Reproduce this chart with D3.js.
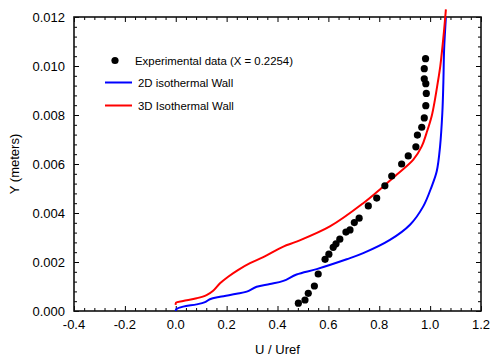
<!DOCTYPE html>
<html>
<head>
<meta charset="utf-8">
<script src="https://cdn.jsdelivr.net/npm/d3@7"></script>
<style>
  body { margin: 0; background: #fff; }
  svg text { font-family: "Liberation Sans", Arial, sans-serif; fill: #000; }
</style>
</head>
<body>
<div id="chart"></div>
<script>
// Experimental data (X = 0.2254)
const expU = [0.482, 0.508, 0.521, 0.545, 0.560, 0.587, 0.602, 0.619, 0.630, 0.645,
    0.669, 0.685, 0.702, 0.721, 0.757, 0.790, 0.822, 0.849, 0.888, 0.914,
    0.944, 0.950, 0.967, 0.977, 0.983, 0.985, 0.983, 0.977, 0.977, 0.982];
const expY = [0.00032, 0.00045, 0.00072, 0.00102, 0.00151, 0.00211, 0.00232, 0.00260, 0.00274, 0.00293,
    0.00322, 0.00331, 0.00361, 0.00379, 0.00429, 0.00461, 0.00511, 0.00551, 0.00600, 0.00633,
    0.00670, 0.00718, 0.00750, 0.00788, 0.00838, 0.00888, 0.00928, 0.00948, 0.00989, 0.01030];

// 2D isothermal Wall
const blueU = [0.000, 0.002, 0.029, 0.082, 0.115, 0.134, 0.174, 0.239, 0.279, 0.318,
    0.370, 0.423, 0.475, 0.554, 0.672, 0.737, 0.842, 0.921, 0.973, 1.006,
    1.026, 1.039, 1.048, 1.052, 1.055, 1.062];
const blueY = [0.00000, 0.00007, 0.00018, 0.00027, 0.00036, 0.00048, 0.00058, 0.00070, 0.00079, 0.00099,
    0.00110, 0.00123, 0.00149, 0.00171, 0.00211, 0.00236, 0.00290, 0.00352, 0.00427, 0.00508,
    0.00570, 0.00671, 0.00809, 0.00931, 0.01067, 0.01198];

// 3D Isothermal Wall
const redU = [0.000, 0.001, 0.029, 0.082, 0.121, 0.147, 0.174, 0.206, 0.246, 0.292,
    0.344, 0.423, 0.475, 0.606, 0.737, 0.809, 0.868, 0.934, 0.967, 0.986,
    1.006, 1.019, 1.032, 1.040, 1.054, 1.062];
const redY = [0.00025, 0.00034, 0.00041, 0.00052, 0.00065, 0.00083, 0.00113, 0.00140, 0.00168, 0.00195,
    0.00220, 0.00263, 0.00283, 0.00345, 0.00440, 0.00502, 0.00556, 0.00618, 0.00672, 0.00727,
    0.00795, 0.00863, 0.00945, 0.00999, 0.01136, 0.01231];

const xTicks = [-0.4, -0.2, 0.0, 0.2, 0.4, 0.6, 0.8, 1.0, 1.2];
const xTickLabels = ['-0.4', '-0.2', '0.0', '0.2', '0.4', '0.6', '0.8', '1.0', '1.2'];
const yTicks = [0, 0.002, 0.004, 0.006, 0.008, 0.010, 0.012];
const yTickLabels = ['0.000', '0.002', '0.004', '0.006', '0.008', '0.010', '0.012'];

const width = 493, height = 358;
const plotLeft = 74, plotRight = 481, plotTop = 17, plotBottom = 311;

const svg = d3.select('#chart')
    .append('svg')
    .attr('width', width)
    .attr('height', height);

const x = d3.scaleLinear().domain([-0.4, 1.2]).range([plotLeft, plotRight]);
const y = d3.scaleLinear().domain([0, 0.012]).range([plotBottom, plotTop]);

// minor ticks: 5 subdivisions between major ticks
function minors(ticks) {
    const out = [];
    for (let i = 0; i < ticks.length - 1; i++) {
        const step = (ticks[i + 1] - ticks[i]) / 5;
        for (let k = 1; k < 5; k++) out.push(ticks[i] + k * step);
    }
    return out;
}
const xMinor = minors(xTicks);
const yMinor = minors(yTicks);

// Axes (ticks inward on all sides)
function addAxis(axisFn, scale, translate, vals, size) {
    const ax = axisFn(scale).tickValues(vals).tickSizeInner(-size).tickSizeOuter(0).tickFormat('');
    const g = svg.append('g').attr('transform', translate).call(ax);
    g.select('.domain').remove();
    g.selectAll('line').attr('stroke', '#000').attr('stroke-width', 1);
    g.selectAll('text').remove();
    return g;
}
addAxis(d3.axisBottom, x, `translate(0,${plotBottom})`, xTicks, 5);
addAxis(d3.axisBottom, x, `translate(0,${plotBottom})`, xMinor, 3);
addAxis(d3.axisTop, x, `translate(0,${plotTop})`, xTicks, 5);
addAxis(d3.axisTop, x, `translate(0,${plotTop})`, xMinor, 3);
addAxis(d3.axisLeft, y, `translate(${plotLeft},0)`, yTicks, 5);
addAxis(d3.axisLeft, y, `translate(${plotLeft},0)`, yMinor, 3);
addAxis(d3.axisRight, y, `translate(${plotRight},0)`, yTicks, 5);
addAxis(d3.axisRight, y, `translate(${plotRight},0)`, yMinor, 3);

// Tick labels
svg.append('g')
    .selectAll('text')
    .data(xTicks)
    .enter()
    .append('text')
    .attr('x', d => x(d))
    .attr('y', 329)
    .attr('text-anchor', 'middle')
    .attr('font-size', '13px')
    .text((d, i) => xTickLabels[i]);

svg.append('g')
    .selectAll('text')
    .data(yTicks)
    .enter()
    .append('text')
    .attr('x', plotLeft - 9)
    .attr('y', d => y(d))
    .attr('dy', '0.36em')
    .attr('text-anchor', 'end')
    .attr('font-size', '13px')
    .text((d, i) => yTickLabels[i]);

// Frame
svg.append('rect')
    .attr('x', plotLeft)
    .attr('y', plotTop)
    .attr('width', plotRight - plotLeft)
    .attr('height', plotBottom - plotTop)
    .attr('fill', 'none')
    .attr('stroke', '#111')
    .attr('stroke-width', 1.6);

// Axis titles
svg.append('text')
    .attr('x', (plotLeft + plotRight) / 2)
    .attr('y', 354)
    .attr('text-anchor', 'middle')
    .attr('font-size', '13px')
    .text('U / Uref');

svg.append('text')
    .attr('transform', `translate(19, ${(plotTop + plotBottom) / 2}) rotate(-90)`)
    .attr('text-anchor', 'middle')
    .attr('font-size', '13px')
    .text('Y (meters)');

// Curves
const line = d3.line()
    .curve(d3.curveCatmullRom)
    .x(d => x(d[0]))
    .y(d => y(d[1]));

svg.append('path')
    .datum(blueU.map((u, i) => [u, blueY[i]]))
    .attr('d', line)
    .attr('fill', 'none')
    .attr('stroke', '#0000ff')
    .attr('stroke-width', 2);

svg.append('path')
    .datum(redU.map((u, i) => [u, redY[i]]))
    .attr('d', line)
    .attr('fill', 'none')
    .attr('stroke', '#ff0000')
    .attr('stroke-width', 2);

// Experimental points
svg.append('g')
    .selectAll('circle')
    .data(expU.map((u, i) => [u, expY[i]]))
    .enter()
    .append('circle')
    .attr('cx', d => x(d[0]))
    .attr('cy', d => y(d[1]))
    .attr('r', 3.6)
    .attr('fill', '#000');

// Legend
const legend = svg.append('g');
legend.append('circle')
    .attr('cx', 115)
    .attr('cy', 60.5)
    .attr('r', 3.6)
    .attr('fill', '#000');
legend.append('text')
    .attr('x', 135)
    .attr('y', 64.5)
    .attr('font-size', '11.4px')
    .text('Experimental data (X = 0.2254)');

legend.append('line')
    .attr('x1', 105).attr('x2', 132)
    .attr('y1', 82.5).attr('y2', 82.5)
    .attr('stroke', '#0000ff')
    .attr('stroke-width', 2);
legend.append('text')
    .attr('x', 138)
    .attr('y', 86.5)
    .attr('font-size', '11.4px')
    .text('2D isothermal Wall');

legend.append('line')
    .attr('x1', 105).attr('x2', 132)
    .attr('y1', 105.5).attr('y2', 105.5)
    .attr('stroke', '#ff0000')
    .attr('stroke-width', 2);
legend.append('text')
    .attr('x', 138)
    .attr('y', 109.5)
    .attr('font-size', '11.4px')
    .text('3D Isothermal Wall');
</script>
</body>
</html>
